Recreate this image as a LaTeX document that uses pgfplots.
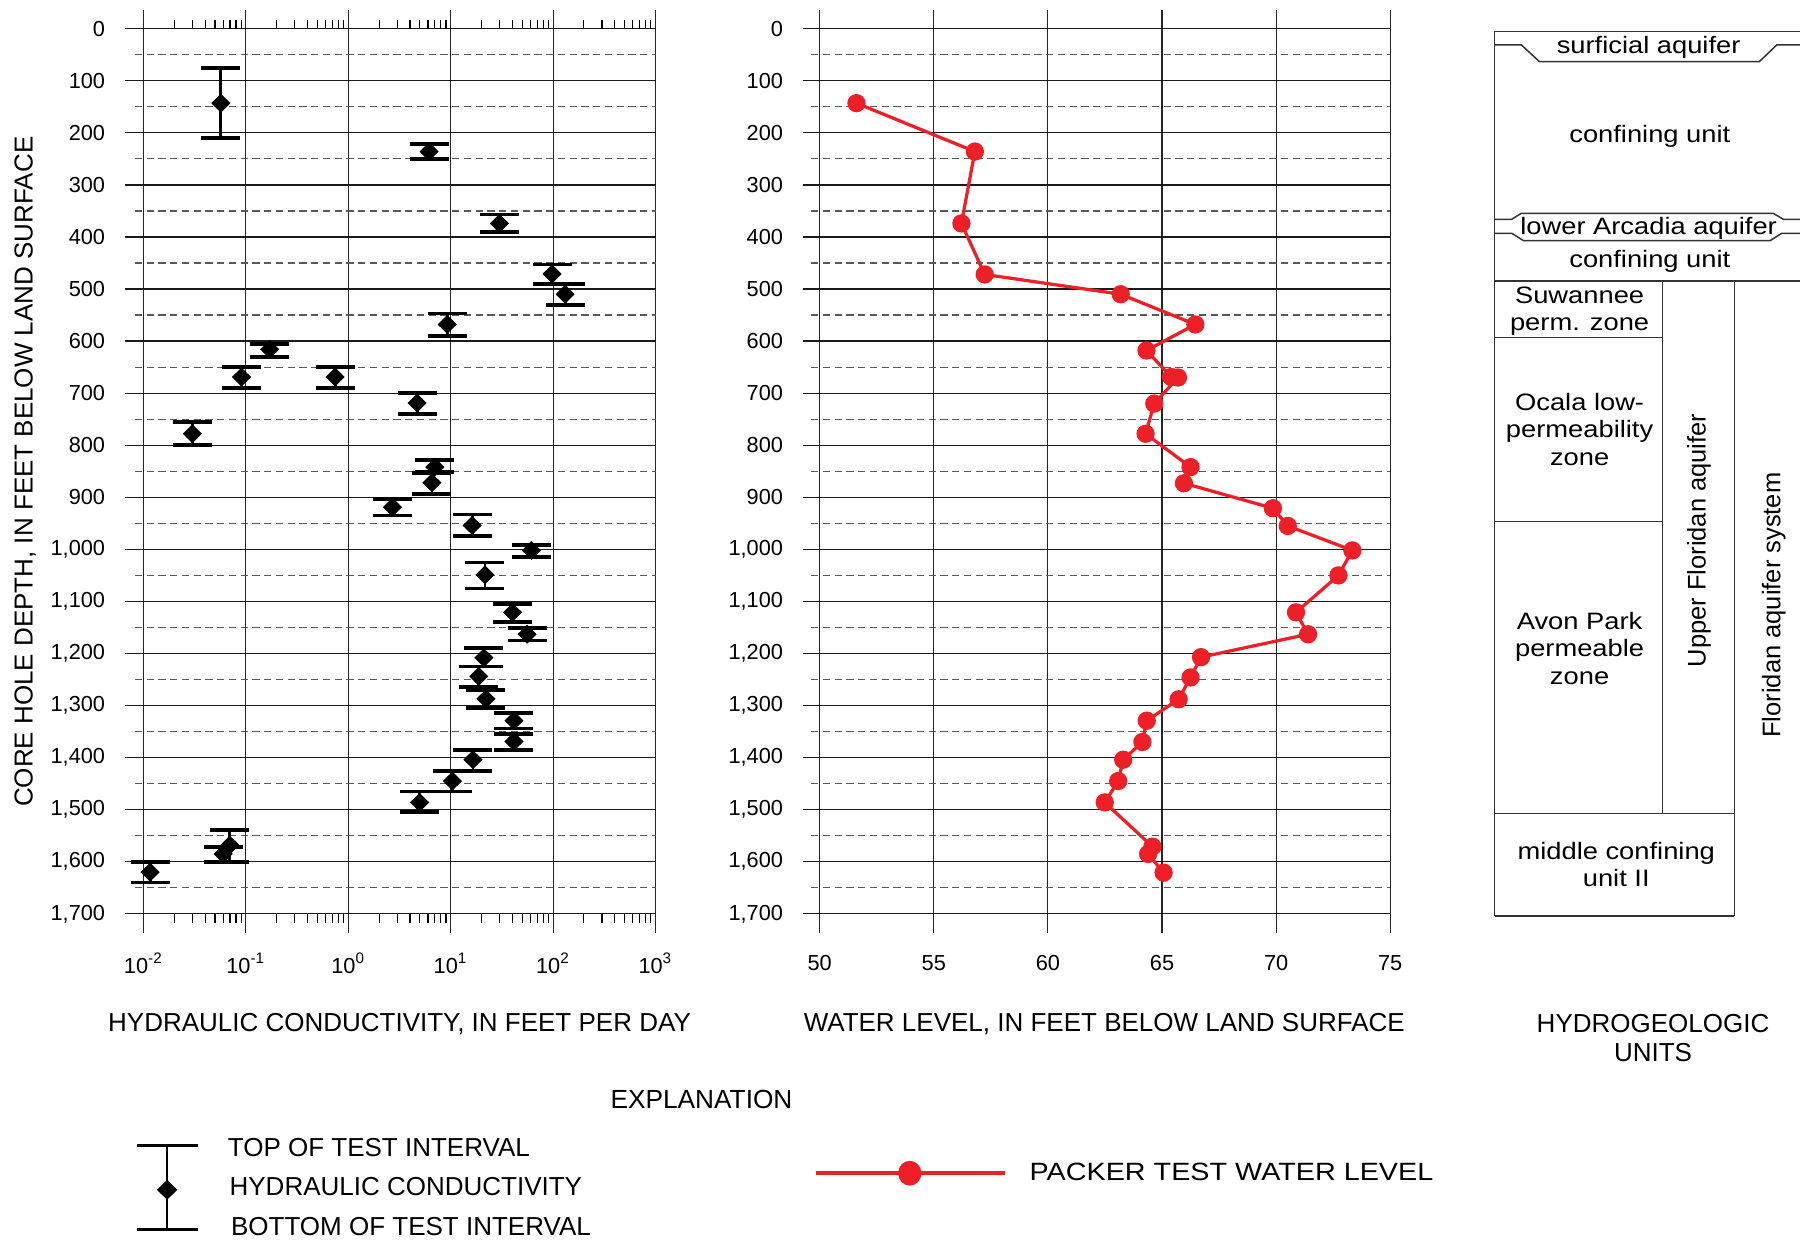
\documentclass[border=0pt]{standalone}
\usepackage{fontspec}
\setmainfont{Liberation Sans}
\newfontfamily\widefont{Liberation Sans}[FakeStretch=1.15]
\usepackage{pgfplots}
\usepackage{pgfplotstable}
\pgfplotsset{compat=1.18}
\definecolor{wlred}{RGB}{237,32,39}

\newcommand\tickfs{\fontsize{8.7}{10}\selectfont}
\newcommand\labfs{\fontsize{10.4}{11.5}\selectfont}
\newcommand\unitfs{\widefont\fontsize{9.5}{11}\selectfont}
\newcommand\rotfs{\fontsize{10.2}{12}\selectfont}

\pgfplotstableread{
d k top bot
143 0.057 75 210
236 6.15 221 250
374 29.9 357 390
471 97.8 453 490
510 131 490 530
568 9.25 547 590
616 0.171 605 631
669 0.0906 650 690
669 0.743 650 690
719 4.70 700 740
778 0.030 755 800
842 7.01 828 852
872 6.56 854 894
919 2.70 903 935
954 16.2 933 975
1002 61.4 992 1015
1049 21.6 1025 1075
1121 40.2 1105 1140
1163 55.7 1151 1175
1208 21.1 1190 1225
1244 18.8 1225 1265
1287 22.1 1270 1305
1329 41.5 1315 1344
1369 41.5 1354 1385
1404 16.5 1385 1425
1445 10.4 1425 1465
1486 4.97 1465 1505
1568 0.0697 1539 1600
1585 0.0600 1571 1600
1620 0.0116 1600 1640
}\kdata

\pgfplotstableread{
d wl
143 51.61
236 56.80
374 56.21
472 57.23
510 63.19
568 66.46
618 64.32
669 65.4
670 65.7
720 64.66
778 64.28
842 66.25
873 65.96
921 69.86
955 70.51
1002 73.34
1050 72.73
1121 70.87
1163 71.40
1207 66.71
1246 66.25
1288 65.73
1329 64.33
1370 64.14
1404 63.30
1445 63.08
1486 62.49
1571 64.58
1585 64.39
1621 65.07
}\wldata

\tikzset{
  hl/.style={black!90, line width=0.5pt},
  dl/.style={black!65, line width=0.5pt, dash pattern=on 2.9pt off 1.8pt},
  ul/.style={black!80, line width=0.6pt},
}

\pgfplotsset{
  panel/.style={
    scale only axis, height=368.83pt, y dir=reverse, ymin=-35, ymax=1736,
    axis line style={draw=none}, major tick length=0pt, minor tick length=0pt,
    clip=false,
    ytick={0,100,...,1700},
    yticklabels={0,100,200,300,400,500,600,700,800,900,{1,000},{1,100},{1,200},{1,300},{1,400},{1,500},{1,600},{1,700}},
    yticklabel style={font=\tickfs, anchor=east, inner sep=0pt, xshift=-7.8pt},
    xticklabel style={font=\tickfs, anchor=center, inner sep=0pt, yshift=-12.3pt},
    xmajorgrids, major grid style={black!85, line width=0.45pt},
    legend style={draw=none, fill=none, inner sep=0pt, outer sep=0pt, column sep=0pt, row sep=0pt, nodes={inner sep=0pt}, anchor=west},
    legend cell align=left,
    xlabel style={font=\labfs, anchor=center},
    ylabel style={font=\labfs, anchor=center},
  },
}

\begin{document}
\begin{tikzpicture}

% ---------------- hydraulic conductivity ----------------
\begin{axis}[panel, at={(50.02pt,-373.02pt)}, anchor=south west, width=212.18pt,
  xmode=log, xmin=0.006607, xmax=1000,
  xtick={0.01,0.1,1,10,100,1000},
  xticklabels={10\textsuperscript{-2},10\textsuperscript{-1},10\textsuperscript{0},10\textsuperscript{1},10\textsuperscript{2},10\textsuperscript{3}},
  xlabel={HYDRAULIC CONDUCTIVITY, IN FEET PER DAY},
  xlabel style={at={(axis description cs:0.5174,-0.0992)}},
  ylabel={CORE HOLE DEPTH, IN FEET BELOW LAND SURFACE},
  ylabel style={at={(axis description cs:-0.1881,0.4997)}},
  legend style={at={(axis description cs:0.01876,-0.2725)}, font=\fontsize{10.4}{11.3}\selectfont},
]
\pgfplotsinvokeforeach{0,100,...,1700}{\draw[hl] (axis cs:0.006607,#1) -- (axis cs:1000,#1);}
\pgfplotsinvokeforeach{50,150,...,1650}{\draw[dl] (axis cs:0.00822,#1) -- (axis cs:1000,#1);}
\pgfplotsinvokeforeach{0.02,0.03,0.04,0.05,0.06,0.07,0.08,0.09,0.2,0.3,0.4,0.5,0.6,0.7,0.8,0.9,2,3,4,5,6,7,8,9,20,30,40,50,60,70,80,90,200,300,400,500,600,700,800,900}{%
  \draw[black, line width=0.45pt] (axis cs:#1,0) -- (axis cs:#1,-17);
  \draw[black, line width=0.45pt] (axis cs:#1,1700) -- (axis cs:#1,1718);}
\addplot[only marks, mark=diamond*, mark size=3.5pt, mark options={black, xscale=1.35},
  error bars/.cd, y dir=both, y explicit,
  error bar style={line width=1.15pt, black},
  error mark options={rotate=90, line width=1.5pt, mark size=7.8pt, black},
  /pgfplots/legend image code/.code={
    \draw[black, line width=1.3pt] (0pt,8.9pt) -- (24.4pt,8.9pt);
    \draw[black, line width=1.3pt] (0pt,-24.7pt) -- (24.4pt,-24.7pt);
    \draw[black, line width=0.9pt] (12.2pt,8.9pt) -- (12.2pt,-24.7pt);
    \fill[black] (12.2pt,-5.0pt) -- (16pt,-8.7pt) -- (12.2pt,-12.4pt) -- (8.4pt,-8.7pt) -- cycle;
    \path (36.3pt,0pt);
  }]
  table[x=k, y=d, y error plus expr=\thisrow{bot}-\thisrow{d}, y error minus expr=\thisrow{d}-\thisrow{top}] {\kdata};
\addlegendentry{\begin{tabular}{@{}l@{}}TOP OF TEST INTERVAL\\[4.5pt]\hspace{0.7pt}HYDRAULIC CONDUCTIVITY\\[4.5pt]\hspace{1.3pt}BOTTOM OF TEST INTERVAL\end{tabular}}
\end{axis}

% ---------------- water level ----------------
\begin{axis}[panel, at={(321.21pt,-373.02pt)}, anchor=south west, width=234.88pt,
  xmin=49.27, xmax=75,
  xtick={50,55,60,65,70,75}, xticklabels={50,55,60,65,70,75},
  xlabel={WATER LEVEL, IN FEET BELOW LAND SURFACE},
  xlabel style={at={(axis description cs:0.5130,-0.0992)}},
  legend style={at={(axis description cs:0.0183,-0.2610)}, font=\widefont\fontsize{10}{12}\selectfont},
]
\pgfplotsinvokeforeach{0,100,...,1700}{\draw[hl] (axis cs:49.27,#1) -- (axis cs:75,#1);}
\pgfplotsinvokeforeach{50,150,...,1650}{\draw[dl] (axis cs:49.62,#1) -- (axis cs:75,#1);}
\addplot[wlred, line width=1.3pt, mark=*, mark size=3pt, mark options={wlred, solid},
  legend image code/.code={
    \draw[wlred, line width=1.6pt] (0pt,0pt) -- (75.8pt,0pt);
    \fill[wlred] (37.6pt,0pt) ellipse[x radius=4pt, y radius=4.3pt];
    \path (84.9pt,0pt);
  }] table[x=wl, y=d] {\wldata};
\addlegendentry{PACKER TEST WATER LEVEL}
\node[font=\fontsize{10.5}{12}\selectfont] at (axis description cs:-0.1729,-0.1813) {EXPLANATION};
\end{axis}

% ---------------- hydrogeologic units ----------------
\begin{axis}[scale only axis, at={(597.88pt,-373.02pt)}, anchor=south west,
  width=122.15pt, height=368.83pt, xmin=0, xmax=1, ymin=-35, ymax=1736,
  y dir=reverse, hide axis, clip=false]
\draw[ul] (axis cs:0,5) -- (axis cs:1,5);
\draw[ul] (axis cs:0,5) -- (axis cs:0,1704);
\draw[ul] (axis cs:0,31) -- (axis cs:0.087,31) -- (axis cs:0.146,63) -- (axis cs:0.867,63) -- (axis cs:0.924,31) -- (axis cs:1,31);
\draw[ul] (axis cs:0,366) -- (axis cs:0.056,366) -- (axis cs:0.087,354.6) -- (axis cs:0.912,354.6) -- (axis cs:0.945,366) -- (axis cs:1,366);
\draw[ul] (axis cs:0,393) -- (axis cs:0.056,393) -- (axis cs:0.094,407) -- (axis cs:0.902,407) -- (axis cs:0.940,393) -- (axis cs:1,393);
\draw[ul] (axis cs:0,484.6) -- (axis cs:1,484.6);
\draw[ul] (axis cs:0,593) -- (axis cs:0.549,593);
\draw[ul] (axis cs:0,946.7) -- (axis cs:0.549,946.7);
\draw[ul] (axis cs:0,1507) -- (axis cs:0.785,1507);
\draw[ul] (axis cs:0,1704) -- (axis cs:0.785,1704);
\draw[ul] (axis cs:0.549,484.6) -- (axis cs:0.549,1507);
\draw[ul] (axis cs:0.785,484.6) -- (axis cs:0.785,1704);
\node[font=\unitfs] at (axis cs:0.504,35) {surficial aquifer};
\node[font=\unitfs] at (axis cs:0.508,206) {confining unit};
\node[font=\unitfs] at (axis cs:0.504,384) {lower Arcadia aquifer};
\node[font=\unitfs] at (axis cs:0.508,446) {confining unit};
\node[font=\unitfs, align=center] at (axis cs:0.278,543) {Suwannee\\perm. zone};
\node[font=\unitfs, align=center] at (axis cs:0.278,769) {Ocala low-\\permeability\\zone};
\node[font=\unitfs, align=center] at (axis cs:0.278,1190) {Avon Park\\permeable\\zone};
\node[font=\unitfs, align=center] at (axis cs:0.398,1605) {middle confining\\unit II};
\node[font=\rotfs, rotate=90] at (axis cs:0.669,983) {Upper Floridan aquifer};
\node[font=\rotfs, rotate=90] at (axis cs:0.914,1107) {Floridan aquifer system};
\node[font=\labfs, align=center] at (axis description cs:0.5184,-0.1146) {HYDROGEOLOGIC\\UNITS};
\end{axis}

\pgfresetboundingbox
\path[use as bounding box] (0pt,0pt) rectangle (720pt,-496.8pt);
\end{tikzpicture}
\end{document}
